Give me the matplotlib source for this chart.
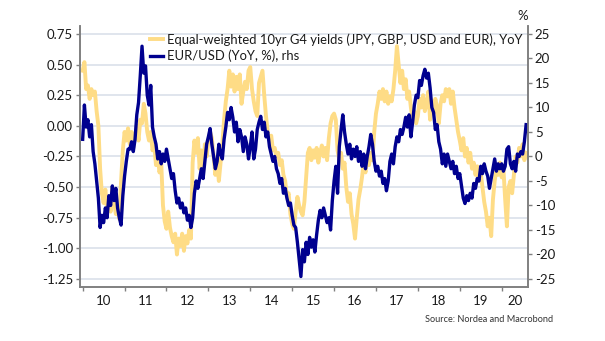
import numpy as np
import matplotlib.pyplot as plt
from matplotlib.ticker import FixedLocator, NullFormatter

plt.rcParams['font.family'] = ['Lato', 'DejaVu Sans']
plt.rcParams['axes.unicode_minus'] = False

# semi-monthly observations, one list per calendar year
years = [2010, 2011, 2012, 2013, 2014, 2015, 2016, 2017, 2018, 2019, 2020]

# equal-weighted 10yr G4 yields, YoY change (lhs)
g4_2010 = [0.45, 0.52, 0.30, 0.33, 0.22, 0.30, 0.25, 0.28, 0.12, 0.00, -0.35, -0.55, -0.63, -0.52, -0.68, -0.58, -0.70, -0.50, -0.62, -0.72, -0.68, -0.76, -0.45, -0.20]
g4_2011 = [-0.05, -0.12, -0.02, -0.15, -0.05, -0.18, -0.08, 0.00, -0.12, 0.05, 0.02, 0.18, 0.10, -0.05, -0.12, -0.05, -0.20, -0.15, -0.32, -0.25, -0.38, -0.30, -0.65, -0.78]
g4_2012 = [-0.84, -0.70, -0.83, -0.90, -0.95, -0.88, -1.05, -0.92, -0.98, -0.88, -1.02, -0.90, -0.96, -0.85, -0.92, -0.30, -0.12, -0.22, -0.10, -0.35, -0.20, -0.38, -0.15, -0.25]
g4_2013 = [-0.12, -0.05, -0.10, -0.25, -0.40, -0.28, -0.45, -0.30, -0.15, 0.05, 0.20, 0.30, 0.45, 0.32, 0.42, 0.28, 0.40, 0.30, 0.42, 0.18, 0.28, 0.36, 0.30, 0.45]
g4_2014 = [0.48, 0.30, 0.20, 0.12, 0.08, 0.35, 0.40, 0.45, 0.25, 0.08, -0.05, -0.12, -0.08, -0.20, -0.18, -0.25, -0.22, -0.32, -0.28, -0.40, -0.45, -0.58, -0.55, -0.72]
g4_2015 = [-0.80, -0.84, -0.70, -0.58, -0.65, -0.70, -0.73, -0.62, -0.42, -0.22, -0.18, -0.28, -0.20, -0.26, -0.18, -0.30, -0.22, -0.16, -0.25, -0.18, -0.28, -0.10, 0.02, 0.08]
g4_2016 = [0.10, 0.05, -0.20, -0.28, -0.22, -0.35, -0.30, -0.50, -0.62, -0.55, -0.72, -0.80, -0.92, -0.75, -0.60, -0.52, -0.42, -0.30, -0.38, -0.25, -0.32, -0.22, -0.28, -0.05]
g4_2017 = [0.10, 0.18, 0.28, 0.22, 0.30, 0.20, 0.28, 0.18, 0.24, 0.20, 0.30, 0.45, 0.65, 0.50, 0.35, 0.45, 0.30, 0.38, 0.22, 0.28, 0.15, 0.05, 0.12, 0.02]
g4_2018 = [0.08, 0.22, 0.15, 0.25, 0.12, 0.18, 0.28, 0.05, 0.20, 0.10, 0.22, 0.15, 0.02, 0.18, 0.25, 0.20, 0.30, 0.24, 0.30, 0.18, 0.28, 0.15, 0.05, -0.05]
g4_2019 = [-0.12, -0.20, -0.10, -0.25, -0.18, -0.30, -0.22, -0.35, -0.30, -0.40, -0.33, -0.45, -0.38, -0.50, -0.62, -0.70, -0.82, -0.75, -0.90, -0.60, -0.45, -0.35, -0.40, -0.30]
g4_2020 = [-0.42, -0.35, -0.60, -0.82, -0.50, -0.45, -0.55, -0.40, -0.25, -0.30, -0.18, -0.25, -0.15, -0.28, -0.22]

# EUR/USD, YoY % (rhs)
fx_2010 = [3.5, 10.5, 6.0, 7.5, 4.0, 6.5, 1.0, -1.5, -5.0, -8.5, -14.5, -12.0, -13.5, -10.5, -12.5, -8.0, -10.0, -6.0, -9.0, -6.5, -10.5, -12.5, -14.0, -8.0]
fx_2011 = [-4.0, -1.0, 1.5, 1.5, 3.0, 1.0, 3.5, 8.5, 11.0, 16.5, 22.5, 17.0, 18.5, 12.5, 10.5, 14.5, 6.0, 4.0, 2.5, -0.5, 1.0, -1.5, 0.5, -1.0]
fx_2012 = [1.5, -0.5, -2.5, -4.5, -3.5, -7.0, -9.5, -8.5, -10.5, -9.5, -11.5, -10.5, -13.0, -12.0, -14.5, -12.5, -7.5, -5.0, -6.5, -4.5, -2.5, -4.5, -1.0, 2.5]
fx_2013 = [4.0, 5.7, 2.5, 0.0, -2.5, -1.0, 2.5, 0.5, -0.5, 3.5, 6.0, 9.0, 7.5, 10.0, 8.0, 5.0, 7.0, 3.0, 5.5, 4.0, 1.0, 4.0, 2.5, -0.5]
fx_2014 = [2.0, 5.0, -0.5, 1.5, 5.5, 7.0, 8.2, 5.5, 7.0, 4.0, 5.0, 2.0, 0.5, -1.0, 0.0, -2.5, -3.5, -5.5, -4.5, -7.5, -6.5, -8.5, -10.0, -9.5]
fx_2015 = [-12.0, -14.0, -14.5, -17.5, -21.0, -24.5, -19.0, -21.5, -17.5, -20.0, -16.5, -18.5, -17.0, -19.5, -16.0, -13.0, -11.0, -12.5, -10.5, -12.0, -13.5, -12.5, -15.0, -9.0]
fx_2016 = [-5.0, -2.0, -7.5, 2.0, 5.5, 8.5, 5.0, 2.5, 0.5, 2.5, -0.5, 1.5, 0.0, 2.0, -1.0, 1.0, -2.0, 0.5, -2.5, 0.0, 2.0, 4.5, 2.5, -1.0]
fx_2017 = [-3.0, -2.0, -4.0, -3.0, -5.5, -4.5, -7.0, -5.0, -1.0, 0.5, -1.5, 2.0, 4.0, 3.0, 5.5, 4.5, 6.0, 8.0, 6.0, 8.5, 4.0, 7.0, 10.5, 12.5]
fx_2018 = [12.0, 15.5, 14.5, 16.5, 17.8, 16.0, 17.0, 14.0, 10.0, 9.0, 5.5, 6.5, 3.0, 1.5, -1.5, 0.5, -2.0, 0.5, -1.0, -2.5, -1.0, -3.5, -2.0, -4.5]
fx_2019 = [-3.5, -6.0, -8.5, -9.6, -8.0, -9.0, -7.5, -8.5, -5.5, -6.5, -4.5, -5.0, -2.0, -3.5, -1.5, -3.0, -4.0, -6.5, -4.5, -2.5, -0.5, -3.0, -1.5, -2.5]
fx_2020 = [-1.5, -3.0, -2.0, 1.5, 2.0, -1.5, -2.5, -1.0, -3.0, 0.5, 0.0, 1.0, 0.5, 3.0, 6.5]

g4 = [g4_2010, g4_2011, g4_2012, g4_2013, g4_2014, g4_2015, g4_2016, g4_2017, g4_2018, g4_2019, g4_2020]
fx = [fx_2010, fx_2011, fx_2012, fx_2013, fx_2014, fx_2015, fx_2016, fx_2017, fx_2018, fx_2019, fx_2020]

t_g4 = np.concatenate([y + np.arange(len(v)) / 24 for y, v in zip(years, g4)])
t_fx = np.concatenate([y + np.arange(len(v)) / 24 for y, v in zip(years, fx)])
g4 = np.concatenate(g4)
fx = np.concatenate(fx)

year_labels = ['10', '11', '12', '13', '14', '15', '16', '17', '18', '19', '20']
left_ticks = [0.75, 0.5, 0.25, 0.0, -0.25, -0.5, -0.75, -1.0, -1.25]
right_ticks = [25, 20, 15, 10, 5, 0, -5, -10, -15, -20, -25]

yellow = '#FEDC86'
navy = '#00008F'
spine_col = '#808080'
txt_col = '#1a1a1a'

fig = plt.figure(figsize=(6.05, 3.41), dpi=100)
ax = fig.add_axes([0.1322, 0.1584, 0.7405, 0.7654])
ax2 = ax.twinx()

l1, = ax.plot(t_g4, g4, color=yellow, lw=2.8, solid_joinstyle='round')
l2, = ax2.plot(t_fx, fx, color=navy, lw=2.4, solid_joinstyle='round')

ax.set_xlim(2009.936, 2020.628)
ax.set_ylim(-1.315, 0.815)
ax2.set_ylim(-26.63, 26.63)

ax.set_yticks(left_ticks)
ax.set_yticklabels(['%.2f' % v for v in left_ticks])
ax2.set_yticks(right_ticks)
ax2.set_yticklabels([str(v) for v in right_ticks])

for v in left_ticks:
    ax.axhline(v, color='#dde3ec', lw=1.3, zorder=0)

# year boundaries get the ticks, the labels sit in the middle of each year
ax.xaxis.set_major_locator(FixedLocator(np.arange(2010, 2021)))
ax.xaxis.set_major_formatter(NullFormatter())
mid = [y + 0.5 for y in years[:-1]] + [2020.31]
ax.xaxis.set_minor_locator(FixedLocator(mid))
ax.set_xticklabels(year_labels, minor=True)
ax.tick_params(axis='x', which='major', length=3, width=1, color=spine_col, direction='out')
ax.tick_params(axis='x', which='minor', length=0, pad=6, labelsize=9.5, labelcolor=txt_col)
ax.tick_params(axis='y', length=3, width=1, color=spine_col, labelsize=9.5, labelcolor=txt_col, pad=2)
ax2.tick_params(axis='y', length=3, width=1, color=spine_col, labelsize=9.5, labelcolor=txt_col, pad=2)

for a in (ax, ax2):
    a.spines['top'].set_visible(False)
    for s in ('left', 'right', 'bottom'):
        a.spines[s].set_color(spine_col)
        a.spines[s].set_linewidth(1.2)

leg = ax2.legend([l1, l2],
                 ['Equal-weighted 10yr G4 yields (JPY, GBP, USD and EUR), YoY', 'EUR/USD (YoY, %), rhs'],
                 loc='upper left', bbox_to_anchor=(0.144, 0.992), frameon=False,
                 fontsize=9.4, handlelength=1.0, handletextpad=0.3, labelspacing=0.3,
                 borderaxespad=0)
for txt in leg.get_texts():
    txt.set_color(txt_col)

fig.text(0.864, 0.953, '%', fontsize=9.5, color=txt_col, ha='center', va='center')
fig.text(0.914, 0.062, 'Source: Nordea and Macrobond', fontsize=6.6, color='#333333', ha='right', va='center')

fig.savefig('out.png', dpi=100)
